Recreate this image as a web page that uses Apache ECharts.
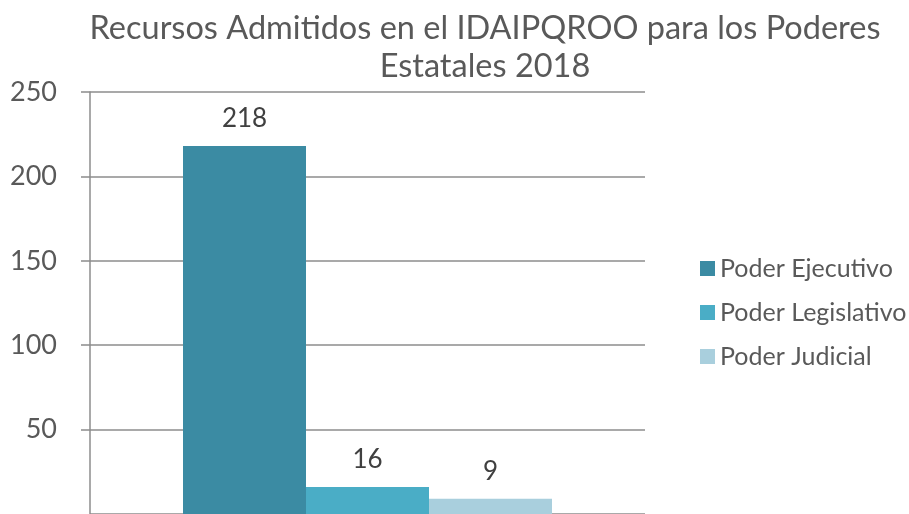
<!DOCTYPE html>
<html>
<head>
<meta charset="utf-8">
<script src="https://cdn.jsdelivr.net/npm/echarts@6/dist/echarts.min.js"></script>
<style>
html,body{margin:0;padding:0;background:#fff;}
#chart{width:909px;height:514px;}
</style>
</head>
<body>
<div id="chart"></div>
<script>
const titleText = 'Recursos Admitidos en el IDAIPQROO para los Poderes\nEstatales 2018';
const categories = ['2018'];
const seriesNames = ['Poder Ejecutivo', 'Poder Legislativo', 'Poder Judicial'];
const ejecutivo = [218];
const legislativo = [16];
const judicial = [9];
const colors = ['#3b8ba3', '#4aadc6', '#a9cfdd'];

const font = 'Lato';
const chart = echarts.init(document.getElementById('chart'));

const values = [ejecutivo, legislativo, judicial];
let series = seriesNames.map((name, i) => ({
    name: name,
    type: 'bar',
    data: values[i],
    barWidth: 123,
    barGap: 0,
    itemStyle: {color: colors[i]},
    label: {
        show: true,
        position: 'top',
        distance: 14,
        color: '#404040',
        fontSize: 26,
        fontFamily: font
    }
}));

chart.setOption({
    animation: false,
    color: colors,
    title: {
        text: titleText,
        left: 480,
        top: 5,
        textAlign: 'center',
        textStyle: {
            color: '#595959',
            fontSize: 32.5,
            fontWeight: 'normal',
            fontFamily: font,
            lineHeight: 38
        }
    },
    legend: {
        orient: 'vertical',
        left: 695,
        top: 251,
        icon: 'rect',
        itemWidth: 15,
        itemHeight: 15,
        itemGap: 19,
        data: seriesNames,
        textStyle: {color: '#595959', fontSize: 25, fontFamily: font}
    },
    grid: {
        left: 90,
        top: 92,
        width: 555,
        height: 425
    },
    xAxis: {
        type: 'category',
        data: categories,
        axisLine: {show: false},
        axisTick: {show: false},
        axisLabel: {show: false}
    },
    yAxis: {
        type: 'value',
        min: 0,
        max: 250,
        interval: 50,
        axisLine: {show: true, lineStyle: {color: '#8c8c8c', width: 1.5}},
        axisTick: {show: true, length: 9, lineStyle: {color: '#8c8c8c', width: 1.5}},
        splitLine: {lineStyle: {color: '#8c8c8c', width: 1.5}},
        axisLabel: {
            showMinLabel: false,
            margin: 33,
            color: '#595959',
            fontSize: 27,
            fontFamily: font
        }
    },
    series: series
});
</script>
</body>
</html>
